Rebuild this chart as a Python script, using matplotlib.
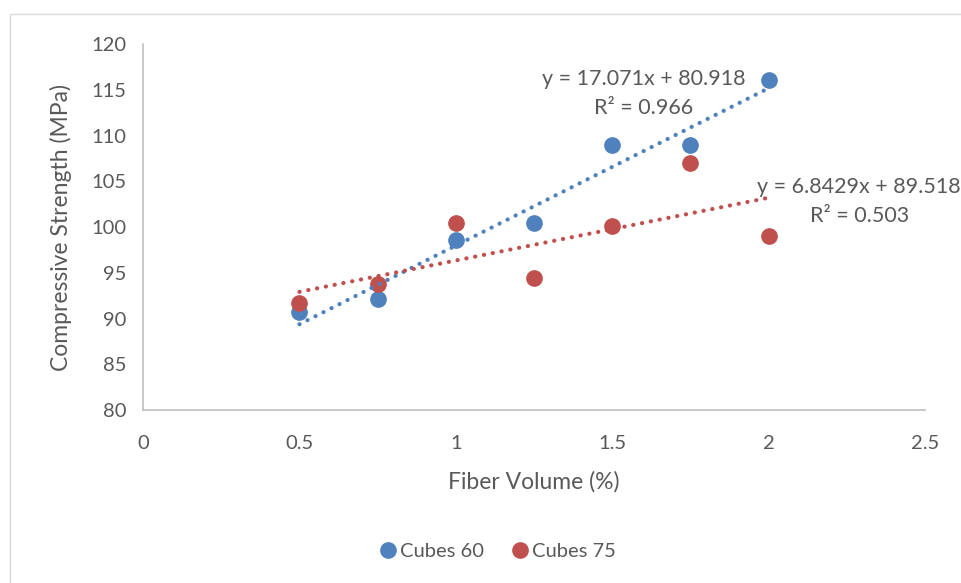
import numpy as np
import matplotlib.pyplot as plt
from matplotlib.patches import Rectangle

plt.rcParams['font.family'] = ['Lato', 'DejaVu Sans']

fiber = [0.5, 0.75, 1.0, 1.25, 1.5, 1.75, 2.0]
cubes60 = [90.7, 92.1, 98.6, 100.4, 109.0, 109.0, 116.1]
cubes75 = [91.7, 93.8, 100.4, 94.4, 100.1, 107.0, 99.0]
eq60 = "y = 17.071x + 80.918\nR² = 0.966"
eq75 = "y = 6.8429x + 89.518\nR² = 0.503"

blue = '#4F81BD'
red = '#C0504D'
grey = '#595959'

fig = plt.figure(figsize=(9.62, 5.83), dpi=100)
ax = fig.add_axes([0.1487, 0.2967, 0.8128, 0.6278])

# chart border like excel
fig.patches.append(Rectangle((10 / 962, -0.05), 1.1, 1 - 14 / 583 + 0.05,
                             transform=fig.transFigure, fill=False,
                             edgecolor='#D9D9D9', linewidth=1))

ax.plot(fiber, cubes60, 'o', color=blue, markersize=11, label='Cubes 60', zorder=3)
ax.plot(fiber, cubes75, 'o', color=red, markersize=11, label='Cubes 75', zorder=3)

# linear trendlines
xs = np.array([fiber[0], fiber[-1]])
for ys, c in [(cubes60, blue), (cubes75, red)]:
    k, b = np.polyfit(fiber, ys, 1)
    ax.plot(xs, k * xs + b, color=c, linewidth=3, linestyle=(0, (0.05, 2.1)),
            dash_capstyle='round', zorder=4)

ax.text(1.601, 114.6, eq60, ha='center', va='center', fontsize=15.5,
        color=grey, linespacing=1.55)
ax.text(2.29, 102.8, eq75, ha='center', va='center', fontsize=15.5,
        color=grey, linespacing=1.55)

ax.set_xlim(0, 2.5)
ax.set_ylim(80, 120)
ax.set_xticks([0, 0.5, 1, 1.5, 2, 2.5])
ax.set_xticklabels(['0', '0.5', '1', '1.5', '2', '2.5'])
ax.set_yticks(range(80, 121, 5))
ax.tick_params(length=0, labelsize=14.5, labelcolor=grey)
ax.tick_params(axis='y', pad=12)
ax.tick_params(axis='x', pad=18)

for s in ['top', 'right']:
    ax.spines[s].set_visible(False)
for s in ['left', 'bottom']:
    ax.spines[s].set_color('#BFBFBF')
    ax.spines[s].set_linewidth(1.2)

ax.set_xlabel('Fiber Volume (%)', fontsize=16.5, color=grey, labelpad=14)
ax.set_ylabel('Compressive Strength (MPa)', fontsize=16.5, color=grey, labelpad=14)

ax.legend(loc='center', bbox_to_anchor=(497 / 962, 1 - 551 / 583),
          bbox_transform=fig.transFigure, ncol=2, frameon=False, fontsize=14.5,
          handletextpad=0.1, columnspacing=1.3, markerscale=1.0,
          labelcolor=grey, handlelength=1.0)

fig.savefig('out.png', dpi=100)
